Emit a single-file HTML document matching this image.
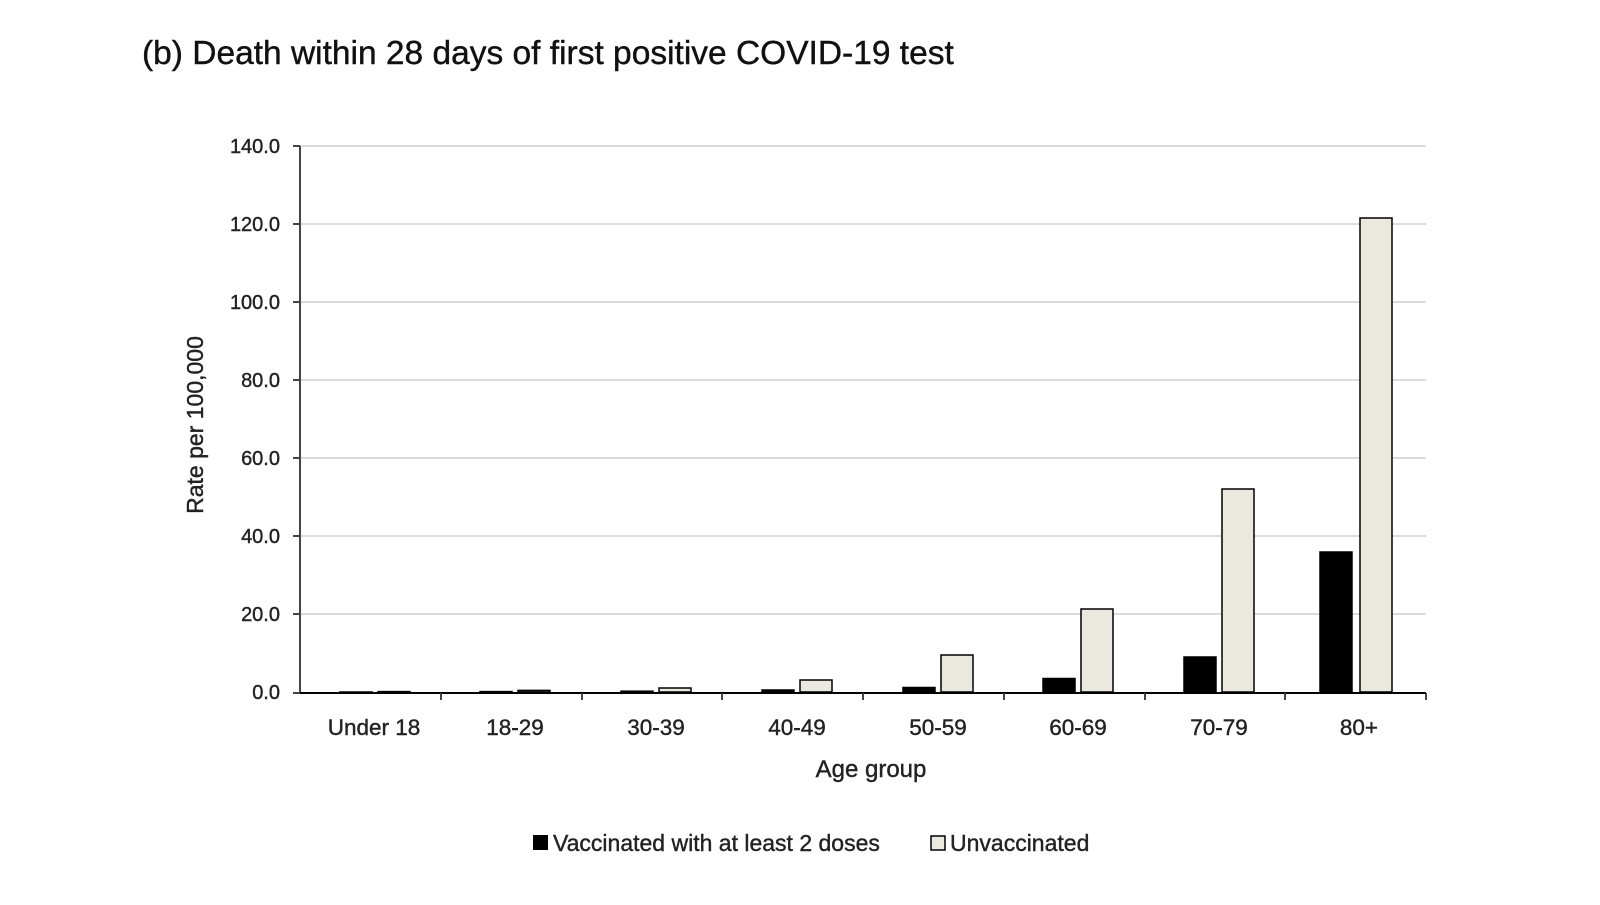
<!DOCTYPE html>
<html><head><style>body{margin:0;background:#fff}</style></head><body>
<svg width="1600" height="900" xmlns="http://www.w3.org/2000/svg" font-family="Liberation Sans, sans-serif">
<text x="142" y="64" font-size="33.5" fill="#111" stroke="#111" stroke-width="0.4">(b) Death within 28 days of first positive COVID-19 test</text>
<g stroke="#dcdcdc" stroke-width="2">
<line x1="300" x2="1426" y1="146" y2="146"/><line x1="300" x2="1426" y1="224" y2="224"/>
<line x1="300" x2="1426" y1="302" y2="302"/><line x1="300" x2="1426" y1="380" y2="380"/>
<line x1="300" x2="1426" y1="458" y2="458"/><line x1="300" x2="1426" y1="536" y2="536"/>
<line x1="300" x2="1426" y1="614" y2="614"/>
</g>
<g font-size="20" fill="#222" stroke="#222" stroke-width="0.4" text-anchor="end">
<text x="280" y="153">140.0</text><text x="280" y="231">120.0</text><text x="280" y="309">100.0</text>
<text x="280" y="387">80.0</text><text x="280" y="465">60.0</text><text x="280" y="543">40.0</text>
<text x="280" y="621">20.0</text><text x="280" y="699">0.0</text>
</g>
<g stroke="#000" stroke-width="1.5">
<rect x="340" y="692" width="32" height="0.5" fill="#000"/><rect x="378" y="691.6" width="32" height="0.4" fill="#ebe9df"/>
<rect x="480" y="691.6" width="32" height="0.4" fill="#000"/><rect x="518" y="690.4" width="32" height="1.6" fill="#ebe9df"/>
<rect x="621" y="691.2" width="32" height="0.8" fill="#000"/><rect x="659" y="688" width="32" height="4" fill="#ebe9df"/>
<rect x="762" y="690" width="32" height="2" fill="#000"/><rect x="800" y="680" width="32" height="12" fill="#ebe9df"/>
<rect x="903" y="687.5" width="32" height="4.5" fill="#000"/><rect x="941" y="655" width="32" height="37" fill="#ebe9df"/>
<rect x="1043" y="678.5" width="32" height="13.5" fill="#000"/><rect x="1081" y="609" width="32" height="83" fill="#ebe9df"/>
<rect x="1184" y="657" width="32" height="35" fill="#000"/><rect x="1222" y="489" width="32" height="203" fill="#ebe9df"/>
<rect x="1320" y="552" width="32" height="140" fill="#000"/><rect x="1360" y="218" width="32" height="474" fill="#ebe9df"/>
</g>
<g stroke="#444" stroke-width="2">
<line x1="300" y1="146" x2="300" y2="693"/>
<line x1="293" y1="146" x2="300" y2="146"/><line x1="293" y1="224" x2="300" y2="224"/><line x1="293" y1="302" x2="300" y2="302"/>
<line x1="293" y1="380" x2="300" y2="380"/><line x1="293" y1="458" x2="300" y2="458"/><line x1="293" y1="536" x2="300" y2="536"/>
<line x1="293" y1="614" x2="300" y2="614"/><line x1="293" y1="693" x2="300" y2="693"/>
<line x1="300" y1="693" x2="1426" y2="693" stroke="#000"/>
<line x1="441" y1="693" x2="441" y2="700"/><line x1="582" y1="693" x2="582" y2="700"/><line x1="722" y1="693" x2="722" y2="700"/>
<line x1="863" y1="693" x2="863" y2="700"/><line x1="1004" y1="693" x2="1004" y2="700"/><line x1="1145" y1="693" x2="1145" y2="700"/>
<line x1="1285" y1="693" x2="1285" y2="700"/><line x1="1426" y1="693" x2="1426" y2="700"/>
</g>
<g font-size="22.5" fill="#222" stroke="#222" stroke-width="0.4" text-anchor="middle">
<text x="374" y="735">Under 18</text><text x="515" y="735">18-29</text><text x="656" y="735">30-39</text>
<text x="797" y="735">40-49</text><text x="938" y="735">50-59</text><text x="1078" y="735">60-69</text>
<text x="1219" y="735">70-79</text><text x="1359" y="735">80+</text>
<text x="871" y="777" font-size="24">Age group</text>
<text transform="translate(203,425) rotate(-90)" font-size="23">Rate per 100,000</text>
</g>
<rect x="533" y="843" width="15" height="15" fill="#000" transform="translate(0,-8)"/>
<text x="553" y="851" font-size="23" fill="#222" stroke="#222" stroke-width="0.4">Vaccinated with at least 2 doses</text>
<rect x="931" y="836" width="14" height="14" fill="#ebe9df" stroke="#000" stroke-width="1.5"/>
<text x="950" y="851" font-size="23" fill="#222" stroke="#222" stroke-width="0.4">Unvaccinated</text>
</svg>
</body></html>
